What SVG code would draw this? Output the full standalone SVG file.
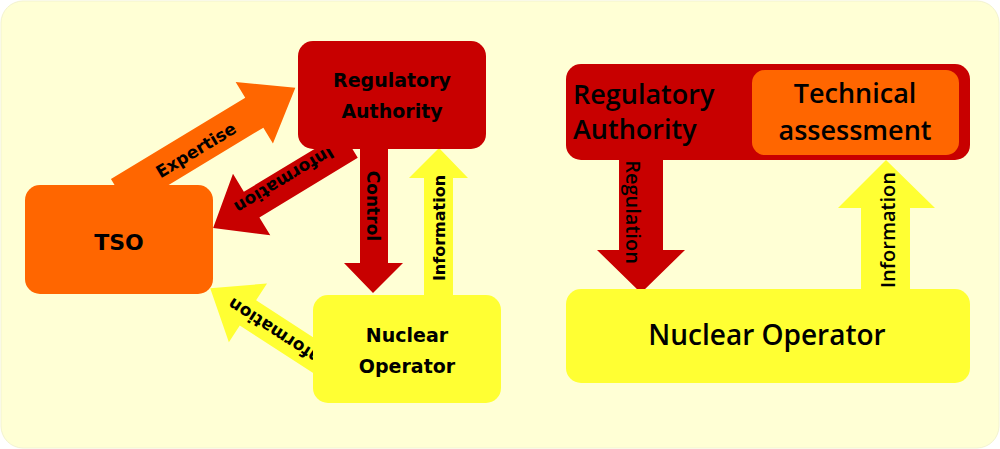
<svg xmlns="http://www.w3.org/2000/svg" width="1000" height="449" viewBox="0 0 1000 449">
<style>
.l{font-family:"DejaVu Sans",sans-serif;font-weight:bold;fill:#000;text-anchor:middle}
.r{font-family:"Open Sans","Liberation Sans",sans-serif;font-weight:600;fill:#000}
</style>
<rect x="1" y="1" width="998" height="447" rx="22" fill="#ffffd5" stroke="#f3f3d0"/>
<g id="connectors">
<polygon transform="translate(120,194) rotate(-31.2)" points="0,-17.5 157,-17.5 157,-36 205,0 157,36 157,17.5 0,17.5" fill="#ff6600"/>
<polygon transform="translate(350,145) rotate(148.8)" points="0,-15 115,-15 115,-36 160,0 115,36 115,15 0,15" fill="#c80000"/>
<polygon transform="translate(336,370) rotate(213)" points="0,-15 105,-15 105,-35 150,0 105,35 105,15 0,15" fill="#ffff33"/>
<polygon points="360,149 388,149 388,263 403,263 373,293 344,263 360,263" fill="#c80000"/>
<polygon points="424,296 453,296 453,178 468,178 439,148 409,178 424,178" fill="#ffff33"/>
<polygon points="619,159 663,159 663,250 685,250 641,293 597,250 619,250" fill="#c80000"/>
<polygon points="861,290 910,290 910,208 935,208 886,160 838,208 861,208" fill="#ffff33"/>
<text class="l" font-size="17" transform="translate(196,150) rotate(-31.2)" dy="6">Expertise</text>
<text class="l" font-size="17" transform="translate(284,180) rotate(148.8)" dy="6">Information</text>
<text class="l" font-size="17" transform="translate(277,333) rotate(213)" dy="6">Information</text>
<text class="l" font-size="17" transform="translate(373,206) rotate(90)" dy="6">Control</text>
<text class="l" font-size="16" transform="translate(439,228) rotate(-90)" dy="6">Information</text>
<text class="r" font-size="20" text-anchor="middle" font-weight="normal" transform="translate(633,212) rotate(90)" dy="7">Regulation</text>
<text class="r" font-size="20" text-anchor="middle" font-weight="normal" transform="translate(888,230) rotate(-90)" dy="7">Information</text>
</g>
<g id="ra-left"><rect x="298" y="41" width="188" height="108" rx="15" fill="#c80000"/>
<text class="l" font-size="19" x="392" y="87">Regulatory</text><text class="l" font-size="19" x="392" y="118">Authority</text></g>
<g id="tso"><rect x="25" y="185" width="188" height="109" rx="15" fill="#ff6600"/>
<text class="l" font-size="22" x="119" y="250">TSO</text></g>
<g id="no-left"><rect x="313" y="295" width="188" height="108" rx="15" fill="#ffff33"/>
<text class="l" font-size="19" x="407" y="342">Nuclear</text><text class="l" font-size="19" x="407" y="373">Operator</text></g>
<g id="ra-right"><rect x="566" y="64" width="404" height="96" rx="15" fill="#c80000"/>
<text class="r" font-size="27" x="573" y="104">Regulatory</text><text class="r" font-size="27" x="573" y="139">Authority</text></g>
<g id="tech"><rect x="752" y="70" width="207" height="85" rx="13" fill="#ff6600"/>
<text class="r" font-size="27" x="855" y="103" text-anchor="middle">Technical</text><text class="r" font-size="27" x="855" y="140" text-anchor="middle">assessment</text></g>
<g id="no-right"><rect x="566" y="289" width="404" height="94" rx="15" fill="#ffff33"/>
<text class="r" font-size="28" x="767" y="345" text-anchor="middle">Nuclear Operator</text></g>
</svg>
